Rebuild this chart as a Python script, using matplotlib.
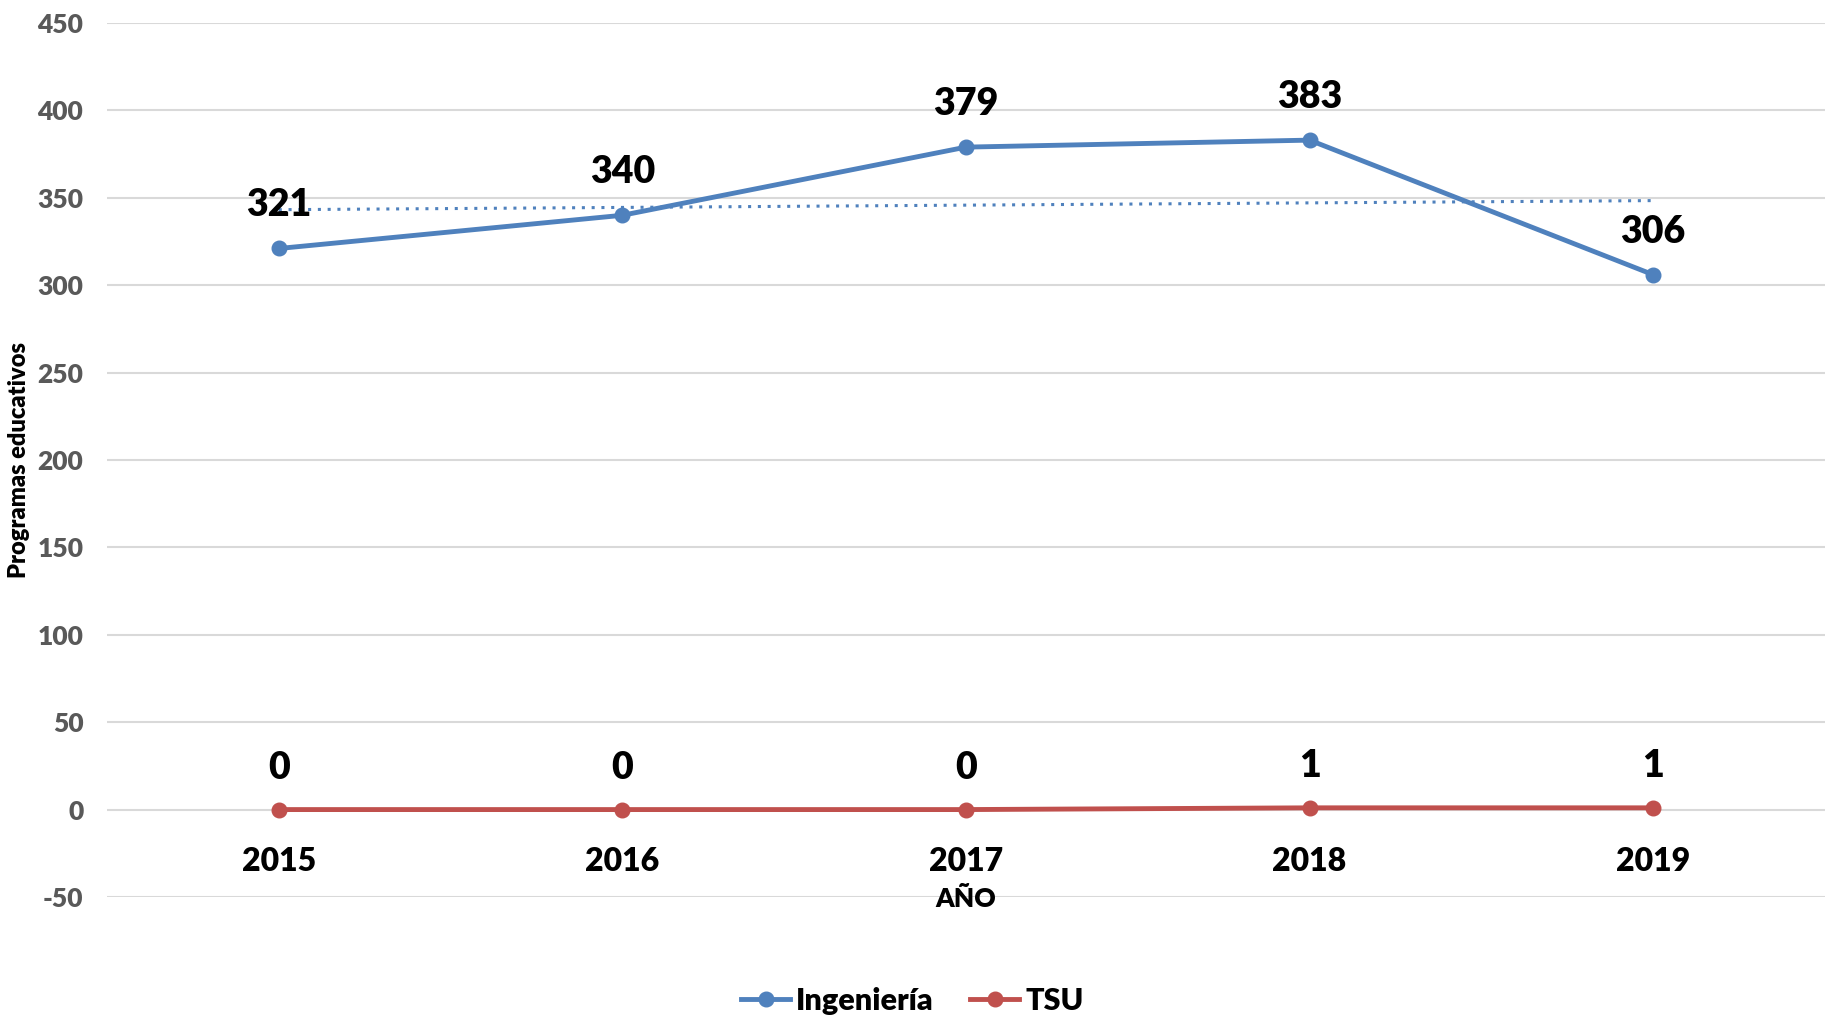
import matplotlib
matplotlib.use("Agg")
import matplotlib.pyplot as plt
import numpy as np

years = ["2015", "2016", "2017", "2018", "2019"]
ingenieria = [321, 340, 379, 383, 306]
tsu = [0, 0, 0, 1, 1]
yticks = [-50, 0, 50, 100, 150, 200, 250, 300, 350, 400, 450]

BLUE = "#4F81BD"
RED = "#C0504D"

plt.rcParams['font.family'] = ['Lato', 'DejaVu Sans']

fig = plt.figure(figsize=(18.25, 10.23), dpi=100)
ax = fig.add_axes([0.0586, 0.1232, 0.9414, 0.8543])

x = np.arange(len(years))
ax.plot(x, ingenieria, color=BLUE, lw=3.5, marker='o', ms=10.5, label='Ingeniería', zorder=3)
ax.plot(x, tsu, color=RED, lw=3.5, marker='o', ms=10.5, label='TSU', zorder=3)

# linear trend of Ingeniería
coef = np.polyfit(x, ingenieria, 1)
ax.plot(x, np.polyval(coef, x), color=BLUE, lw=2.2, ls=(0, (1, 2.2)), zorder=2)

for xi, v in zip(x, ingenieria):
    ax.annotate(str(v), (xi, v), xytext=(0, 31), textcoords='offset points',
                ha='center', va='center', fontsize=27, fontweight='heavy', color='black')
for xi, v in zip(x, tsu):
    ax.annotate(str(v), (xi, v), xytext=(0, 30), textcoords='offset points',
                ha='center', va='center', fontsize=27, fontweight='heavy', color='black')

ax.spines['bottom'].set_position(('data', 0))
for s in ax.spines.values():
    s.set_visible(False)
ax.set_xlim(-0.5, len(years) - 0.5)
ax.set_ylim(-50, 450)
ax.set_yticks(yticks)
ax.set_yticklabels([str(t) for t in yticks], fontsize=19, fontweight='heavy', color='#595959')
ax.set_xticks(x)
ax.set_xticklabels(years, fontsize=23, fontweight='heavy', color='black')
ax.tick_params(axis='y', length=0, pad=17)
ax.tick_params(axis='x', length=0, pad=27)
ax.grid(axis='y', color='#D9D9D9', lw=1.5)
ax.set_axisbelow(True)

fig.text(966 / 1825, 1 - 899 / 1023, "AÑO", ha='center', va='center',
         fontsize=19, fontweight='heavy', color='black')
fig.text(19 / 1825, 1 - 460 / 1023, "Programas educativos", ha='center', va='center',
         rotation=90, fontsize=17, fontweight='heavy', color='black')

leg = fig.legend(loc='center', bbox_to_anchor=(0.5, 1 - 1001 / 1023), ncol=2, frameon=False,
                 prop={'size': 22, 'weight': 'heavy'}, handlelength=1.6, columnspacing=1.2,
                 handletextpad=0.2)

fig.savefig("out.png", dpi=100)
